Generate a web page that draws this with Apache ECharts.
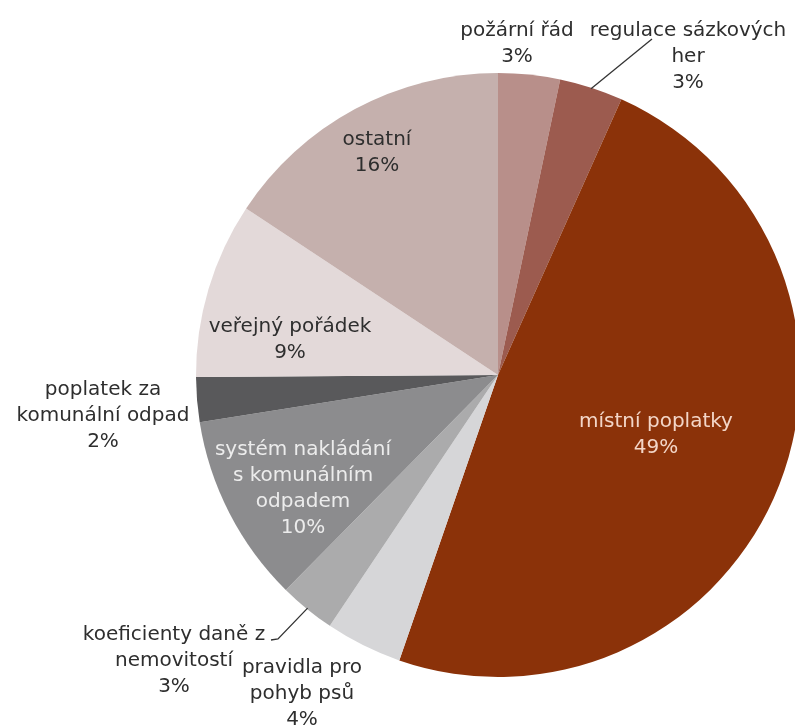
<!DOCTYPE html>
<html><head><meta charset="utf-8">
<script src="https://cdn.jsdelivr.net/npm/echarts@6/dist/echarts.min.js"></script>
<style>html,body{margin:0;padding:0;background:#fff}#c{width:795px;height:728px}</style>
</head><body><div id="c"></div>
<script>
const categories = ['požární řád', 'regulace sázkových\nher', 'místní poplatky', 'pravidla pro\npohyb psů', 'koeficienty daně z\nnemovitostí', 'systém nakládání\ns komunálním\nodpadem', 'poplatek za\nkomunální odpad', 'veřejný pořádek', 'ostatní'];
const values = [3.3, 3.4, 48.6, 4.1, 3.0, 10.1, 2.4, 9.4, 15.7];
const colors = ['#b88f8a', '#9c5b4f', '#8b3209', '#d6d6d8', '#ababac', '#8c8c8e', '#59595b', '#e3d9d9', '#c5b0ad'];

// layout only
const CX = 498, CY = 375, R = 302;
const labelPos = [[517, 44], [688, 57], [656, 435], [302, 694], [174, 661], [303, 489], [103, 416], [290, 340], [377, 153]];
const labelColor = ['#2e2e2e', '#2e2e2e', '#f3d6c8', '#2e2e2e', '#2e2e2e', '#ececec', '#2e2e2e', '#2e2e2e', '#2e2e2e'];
const lineEnds = { 1: [[652, 39]], 4: [[278, 639], [271, 640]] };

const total = values.reduce((a, b) => a + b, 0);
function arcPoint(i) {
  let before = 0;
  for (let k = 0; k < i; k++) before += values[k];
  const th = (before + values[i] / 2) / total * 2 * Math.PI;
  return [CX + (R - 1) * Math.sin(th), CY - (R - 1) * Math.cos(th)];
}

const leaderLines = Object.keys(lineEnds).map(k => ({
  type: 'polyline',
  z: 100,
  shape: { points: [arcPoint(+k)].concat(lineEnds[k]) },
  style: { stroke: '#333', lineWidth: 1.3, fill: null }
}));

const chart = echarts.init(document.getElementById('c'));
chart.setOption({
  animation: false,
  graphic: leaderLines,
  series: [{
    type: 'pie',
    center: [CX, CY],
    radius: [0, R],
    startAngle: 90,
    clockwise: true,
    avoidLabelOverlap: false,
    labelLine: { show: false },
    data: categories.map((n, i) => ({
      name: n, value: values[i],
      itemStyle: { color: colors[i] },
      label: { color: labelColor[i] }
    })),
    label: {
      show: true,
      position: 'inside',
      fontFamily: 'DejaVu Sans',
      fontSize: 20,
      lineHeight: 26,
      align: 'center',
      formatter: p => p.name + '\n' + Math.round(p.value) + '%'
    },
    labelLayout: p => ({
      x: labelPos[p.dataIndex][0],
      y: labelPos[p.dataIndex][1],
      align: 'center',
      verticalAlign: 'middle'
    })
  }]
});
</script></body></html>
